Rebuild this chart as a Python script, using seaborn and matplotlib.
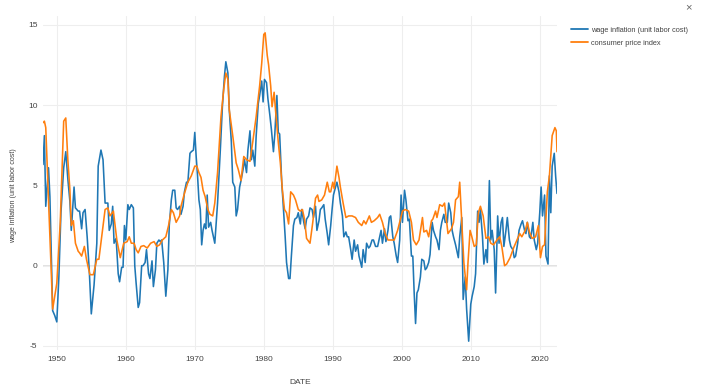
import numpy as np
import pandas as pd
import matplotlib
matplotlib.use("Agg")
import matplotlib.pyplot as plt
import seaborn as sns

# ---- data ----
wage_years = [
    1948.0, 1948.2, 1948.4, 1948.8, 1949.0, 1949.4, 1949.7, 1950.0, 1950.3, 1950.6,
    1951.0, 1951.3, 1951.6, 1951.9, 1952.1, 1952.5, 1952.7, 1953.1, 1953.3, 1953.6,
    1953.8, 1954.1, 1954.4, 1954.7, 1955.0, 1955.4, 1955.8, 1956.0, 1956.4, 1956.7,
    1957.0, 1957.4, 1957.6, 1957.9, 1958.1, 1958.3, 1958.6, 1958.9, 1959.1, 1959.4,
    1959.6, 1959.8, 1960.0, 1960.3, 1960.5, 1960.8, 1961.1, 1961.3, 1961.5, 1961.8,
    1962.0, 1962.3, 1962.5, 1962.8, 1963.0, 1963.3, 1963.5, 1963.8, 1964.0, 1964.3,
    1964.5, 1964.8, 1965.0, 1965.2, 1965.5, 1965.8, 1966.1, 1966.3, 1966.6, 1966.8,
    1967.1, 1967.3, 1967.5, 1967.8, 1968.0, 1968.3, 1968.5, 1968.8, 1969.0, 1969.3,
    1969.5, 1969.8, 1970.0, 1970.2, 1970.4, 1970.6, 1970.8, 1971.0, 1971.2, 1971.4,
    1971.6, 1971.8, 1972.0, 1972.3, 1972.5, 1972.9, 1973.3, 1973.7, 1974.0, 1974.3,
    1974.5, 1974.8, 1975.0, 1975.3, 1975.5, 1975.8, 1976.0, 1976.2, 1976.5, 1976.7,
    1977.0, 1977.2, 1977.5, 1977.7, 1978.0, 1978.2, 1978.4, 1978.7, 1978.9, 1979.2,
    1979.4, 1979.7, 1979.9, 1980.1, 1980.4, 1980.6, 1980.9, 1981.1, 1981.4, 1981.6,
    1981.9, 1982.1, 1982.3, 1982.6, 1982.8, 1983.1, 1983.3, 1983.6, 1983.8, 1984.0,
    1984.3, 1984.5, 1984.8, 1985.0, 1985.3, 1985.5, 1985.8, 1986.0, 1986.2, 1986.5,
    1986.7, 1987.0, 1987.2, 1987.5, 1987.7, 1988.0, 1988.2, 1988.4, 1988.7, 1988.9,
    1989.2, 1989.4, 1989.7, 1989.9, 1990.1, 1990.4, 1990.6, 1990.9, 1991.1, 1991.4,
    1991.6, 1991.9, 1992.1, 1992.3, 1992.6, 1992.8, 1993.1, 1993.3, 1993.6, 1993.8,
    1994.2, 1994.4, 1994.7, 1994.9, 1995.2, 1995.4, 1995.7, 1995.9, 1996.2, 1996.5,
    1996.7, 1997.0, 1997.2, 1997.5, 1997.7, 1998.0, 1998.2, 1998.4, 1998.7, 1998.9,
    1999.2, 1999.4, 1999.7, 1999.9, 2000.1, 2000.4, 2000.6, 2000.9, 2001.1, 2001.4,
    2001.6, 2001.8, 2002.0, 2002.2, 2002.4, 2002.7, 2002.9, 2003.2, 2003.4, 2003.6,
    2003.9, 2004.1, 2004.4, 2004.6, 2004.9, 2005.1, 2005.4, 2005.6, 2005.8, 2006.1,
    2006.3, 2006.6, 2006.8, 2007.1, 2007.3, 2007.5, 2007.8, 2008.2, 2008.4, 2008.7,
    2008.9, 2009.2, 2009.4, 2009.7, 2010.0, 2010.2, 2010.5, 2010.7, 2011.0, 2011.2,
    2011.4, 2011.7, 2011.9, 2012.2, 2012.4, 2012.7, 2012.9, 2013.1, 2013.4, 2013.6,
    2013.9, 2014.1, 2014.4, 2014.6, 2014.8, 2015.1, 2015.3, 2015.6, 2015.8, 2016.1,
    2016.3, 2016.5, 2016.8, 2017.0, 2017.3, 2017.5, 2017.8, 2018.0, 2018.2, 2018.5,
    2018.7, 2019.0, 2019.2, 2019.5, 2019.7, 2020.0, 2020.2, 2020.4, 2020.7, 2020.9,
    2021.2, 2021.4, 2021.6, 2021.8, 2022.1, 2022.3, 2022.5,
]
wage_values = [
    6.3, 8.1, 3.7, 6.1, 4.3, -2.8, -3.1, -3.5, -0.7, 3.3,
    6.1, 7.1, 5.4, 4.0, 2.2, 4.9, 3.6, 3.4, 3.4, 2.3,
    3.3, 3.5, 1.8, -0.25, -3.0, -1.2, 1.4, 6.2, 7.2, 6.6,
    3.9, 3.9, 2.2, 2.6, 3.7, 1.4, 1.7, -0.5, -1.0, -0.1,
    -0.1, 2.5, 1.6, 3.8, 3.5, 3.8, 3.6, 0.0, -1.1, -2.6,
    -2.3, 0.0, 0.0, 0.2, 1.0, -0.5, -0.8, 0.3, -1.3, -0.25,
    1.4, 1.6, 1.5, 1.6, 0.2, -1.9, -0.25, 2.5, 4.1, 4.7,
    4.7, 3.6, 3.5, 3.7, 3.2, 3.7, 4.6, 5.2, 5.2, 7.0,
    7.1, 7.2, 8.3, 6.8, 5.6, 4.1, 3.5, 1.3, 2.2, 2.6,
    2.3, 4.4, 2.4, 2.7, 2.2, 1.4, 3.9, 7.2, 9.9, 11.8,
    12.7, 12.0, 9.7, 7.7, 5.2, 4.9, 3.1, 3.5, 4.9, 5.3,
    6.0, 6.6, 5.8, 7.2, 8.4, 6.6, 7.2, 6.2, 8.1, 10.1,
    10.6, 11.5, 10.2, 11.6, 11.4, 10.4, 9.3, 8.5, 7.1, 8.2,
    10.6, 8.3, 8.2, 5.2, 3.9, 1.8, 0.2, -0.8, -0.8, 0.6,
    2.5, 2.9, 3.0, 3.3, 2.6, 3.5, 2.7, 2.3, 2.9, 3.1,
    3.6, 3.5, 3.0, 3.7, 2.2, 2.8, 3.5, 3.6, 3.8, 2.9,
    2.0, 1.3, 2.5, 3.5, 4.4, 4.9, 5.2, 4.6, 3.9, 3.1,
    1.8, 2.1, 1.8, 1.8, 1.0, 0.4, 1.6, 0.9, 1.3, 0.6,
    -0.1, 1.0, 0.2, 1.4, 1.1, 1.2, 1.6, 1.6, 1.2, 1.2,
    1.6, 2.2, 1.4, 2.3, 1.5, 2.2, 3.0, 3.1, 1.8, 1.4,
    0.6, 0.2, 1.6, 4.4, 2.7, 4.7, 4.1, 2.8, 2.9, 0.6,
    0.6, -1.7, -3.6, -1.7, -1.5, -0.7, 0.4, 0.3, -0.25, -0.15,
    0.2, 0.7, 2.7, 2.2, 1.8, 1.6, 1.0, 2.2, 2.7, 3.2,
    2.7, 2.7, 3.9, 3.3, 2.2, 1.8, 1.3, 0.5, 1.8, 3.0,
    -2.1, -0.7, -2.7, -4.7, -2.4, -1.9, -1.3, -0.5, 3.4, 2.7,
    3.5, 1.8, 0.1, 1.0, 0.2, 5.3, 1.6, 2.2, 1.0, -1.7,
    3.1, 1.4, 2.7, 3.0, 1.2, 2.2, 3.0, 1.6, 1.2, 1.0,
    0.5, 0.6, 1.4, 2.2, 2.6, 2.8, 2.2, 2.0, 2.7, 1.8,
    1.7, 2.7, 1.6, 1.0, 1.4, 3.3, 4.9, 3.1, 4.4, 0.6,
    0.1, 5.6, 3.3, 6.2, 7.0, 5.6, 4.5,
]

cpi_years = [
    1948.0, 1948.2, 1948.4, 1949.4, 1950.0, 1950.5, 1951.0, 1951.3, 1951.6, 1951.9,
    1952.1, 1952.4, 1952.7, 1953.1, 1953.3, 1953.6, 1954.0, 1954.3, 1954.8, 1955.3,
    1955.8, 1956.1, 1956.5, 1957.0, 1957.4, 1957.7, 1958.2, 1958.7, 1959.2, 1959.7,
    1960.2, 1960.5, 1960.8, 1961.2, 1961.5, 1961.8, 1962.2, 1962.6, 1963.1, 1963.6,
    1964.1, 1964.5, 1964.9, 1965.3, 1965.8, 1966.2, 1966.6, 1966.9, 1967.3, 1967.8,
    1968.0, 1968.5, 1969.0, 1969.5, 1970.0, 1970.3, 1970.6, 1970.9, 1971.2, 1971.5,
    1971.9, 1972.2, 1972.6, 1972.9, 1973.3, 1973.8, 1974.2, 1974.5, 1974.8, 1975.0,
    1975.5, 1976.0, 1976.3, 1976.7, 1977.1, 1977.5, 1978.0, 1978.4, 1978.9, 1979.4,
    1979.7, 1980.0, 1980.2, 1980.5, 1980.7, 1981.0, 1981.2, 1981.5, 1981.7, 1982.1,
    1982.4, 1982.7, 1983.0, 1983.3, 1983.6, 1983.9, 1984.3, 1984.6, 1985.0, 1985.3,
    1985.6, 1985.9, 1986.2, 1986.7, 1987.1, 1987.5, 1987.8, 1988.0, 1988.4, 1988.8,
    1989.2, 1989.5, 1989.7, 1990.0, 1990.2, 1990.6, 1990.9, 1991.1, 1991.5, 1991.9,
    1992.3, 1992.8, 1993.3, 1993.7, 1994.2, 1994.5, 1994.8, 1995.3, 1995.6, 1996.0,
    1996.5, 1996.8, 1997.2, 1997.6, 1998.0, 1998.4, 1998.9, 1999.4, 1999.8, 2000.1,
    2000.5, 2001.0, 2001.4, 2001.7, 2002.1, 2002.5, 2003.0, 2003.2, 2003.6, 2003.9,
    2004.3, 2004.5, 2004.9, 2005.1, 2005.5, 2005.9, 2006.2, 2006.7, 2007.2, 2007.5,
    2007.8, 2008.2, 2008.4, 2008.7, 2009.0, 2009.4, 2009.6, 2009.9, 2010.1, 2010.5,
    2010.8, 2011.1, 2011.4, 2011.8, 2012.2, 2012.6, 2012.9, 2013.3, 2013.8, 2014.2,
    2014.5, 2014.9, 2015.2, 2015.7, 2016.2, 2016.7, 2017.1, 2017.4, 2017.9, 2018.2,
    2018.5, 2018.9, 2019.4, 2019.8, 2020.1, 2020.4, 2020.7, 2021.1, 2021.4, 2021.8,
    2022.2, 2022.4, 2022.5,
]
cpi_values = [
    8.9, 9.0, 8.6, -2.7, -1.1, 2.7, 9.0, 9.2, 6.6, 4.7,
    2.5, 2.8, 1.4, 0.9, 0.8, 0.6, 1.2, 0.4, -0.56, -0.56,
    0.4, 0.4, 1.8, 3.5, 3.6, 3.1, 3.4, 1.6, 0.5, 1.4,
    1.5, 1.8, 1.4, 1.4, 1.0, 0.8, 1.2, 1.25, 1.1, 1.4,
    1.5, 1.2, 1.3, 1.6, 1.8, 2.5, 3.5, 3.3, 2.7, 3.1,
    3.7, 4.5, 5.2, 5.6, 6.2, 6.2, 5.8, 5.5, 4.7, 4.3,
    3.5, 3.2, 3.1, 3.9, 5.8, 9.3, 11.0, 12.0, 11.6, 9.7,
    8.1, 6.4, 6.0, 5.3, 6.8, 6.6, 6.5, 7.7, 9.3, 11.2,
    12.6, 14.4, 14.5, 13.1, 12.5, 11.2, 9.9, 10.8, 9.7, 7.7,
    6.4, 4.7, 3.5, 3.3, 2.6, 4.6, 4.4, 4.1, 3.5, 3.4,
    3.5, 2.9, 1.7, 1.4, 2.7, 4.2, 4.4, 4.0, 4.1, 4.4,
    5.2, 4.6, 4.6, 5.2, 4.8, 6.2, 5.5, 4.9, 3.9, 3.0,
    3.1, 3.1, 3.0, 2.7, 2.5, 2.8, 2.6, 3.1, 2.7, 2.8,
    3.0, 3.2, 2.7, 2.0, 1.6, 1.6, 1.6, 2.2, 2.9, 3.4,
    3.5, 3.4, 2.7, 1.6, 1.3, 1.6, 3.0, 2.1, 2.2, 1.8,
    2.8, 2.9, 3.4, 3.0, 3.8, 3.7, 3.9, 2.0, 2.3, 2.7,
    4.1, 4.3, 5.2, 2.7, 0.2, -1.5, 0.2, 2.2, 1.9, 1.2,
    1.3, 3.3, 3.7, 3.1, 1.7, 1.8, 1.4, 1.3, 1.6, 1.8,
    1.2, 0.0, 0.1, 0.5, 1.1, 1.6, 2.0, 1.8, 2.2, 2.7,
    2.1, 1.7, 1.8, 2.5, 0.5, 1.2, 1.3, 4.6, 5.6, 8.1,
    8.6, 8.4, 7.1,
]

series_names = ["wage inflation (unit labor cost)", "consumer price index"]
series_colors = ["#1f77b4", "#ff7f0e"]
x_ticks = [1950, 1960, 1970, 1980, 1990, 2000, 2010, 2020]
y_ticks = [-5, 0, 5, 10, 15]

df = pd.concat([
    pd.DataFrame({"DATE": wage_years, "value": wage_values, "series": series_names[0]}),
    pd.DataFrame({"DATE": cpi_years, "value": cpi_values, "series": series_names[1]}),
], ignore_index=True)

sns.set_theme(style="white")
plt.rcParams["font.family"] = ["Liberation Sans", "DejaVu Sans"]

W, H = 706, 390
fig = plt.figure(figsize=(W / 100, H / 100), dpi=100)
ax = fig.add_axes([43 / W, 1 - 350 / H, (557 - 43) / W, (350 - 16) / H])

sns.lineplot(data=df, x="DATE", y="value", hue="series", hue_order=series_names,
             palette=series_colors, estimator=None, linewidth=1.15, ax=ax, legend=False)

ax.set_xlim(min(wage_years), max(wage_years))
ax.set_ylim(-5.25, 15.55)
ax.set_xticks(x_ticks)
ax.set_xticklabels([str(t) for t in x_ticks])
ax.set_yticks(y_ticks)
ax.set_yticklabels([str(t) for t in y_ticks])
ax.grid(True, color="#eeeeee", linewidth=0.8)
ax.axhline(0, color="#e2e2e2", linewidth=1.4, zorder=0.5)
ax.set_axisbelow(True)
for s in ax.spines.values():
    s.set_visible(False)
ax.tick_params(axis="both", length=0, labelsize=6.0, colors="#444444", pad=4)
ax.set_xlabel("DATE", fontsize=6.0, color="#444444", labelpad=12)
ax.set_ylabel("wage inflation (unit labor cost)", fontsize=5.1, color="#444444")
ax.yaxis.set_label_coords(-26 / (557 - 43), (350 - 196) / (350 - 16))

from matplotlib.lines import Line2D
handles = [Line2D([0], [0], color=c, linewidth=1.3) for c in series_colors]
fig.legend(handles, series_names, loc="upper left", bbox_to_anchor=(571 / W, 1 - 26.5 / H),
           frameon=False, fontsize=5.3, handlelength=2.3, handletextpad=0.4,
           borderpad=0, borderaxespad=0, labelspacing=0.85, labelcolor="#444444")

fig.text(688 / W, 1 - 7 / H, "\u00d7", fontsize=8, color="#666666", ha="center", va="center")

fig.savefig("out.png", dpi=100, facecolor="white")
